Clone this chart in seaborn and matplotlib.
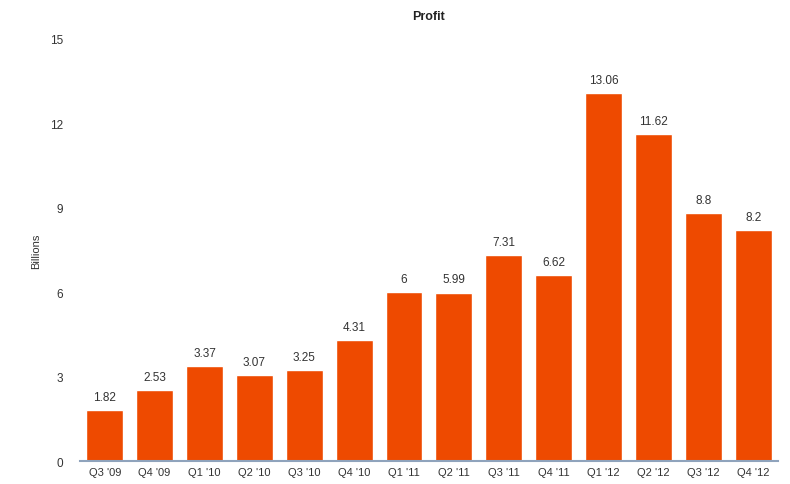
import matplotlib
matplotlib.use("Agg")
import matplotlib.pyplot as plt
import seaborn as sns

quarters = ["Q3 '09", "Q4 '09", "Q1 '10", "Q2 '10", "Q3 '10", "Q4 '10", "Q1 '11",
            "Q2 '11", "Q3 '11", "Q4 '11", "Q1 '12", "Q2 '12", "Q3 '12", "Q4 '12"]
profit = [1.82, 2.53, 3.37, 3.07, 3.25, 4.31, 6, 5.99, 7.31, 6.62, 13.06, 11.62, 8.8, 8.2]
labels = ["1.82", "2.53", "3.37", "3.07", "3.25", "4.31", "6", "5.99", "7.31", "6.62",
          "13.06", "11.62", "8.8", "8.2"]
yticks = [0, 3, 6, 9, 12, 15]

sns.set_style("white")
plt.rcParams['font.family'] = ['Liberation Sans', 'DejaVu Sans']

fig = plt.figure(figsize=(7.9, 4.85), dpi=100)
ax = fig.add_axes([0.101, 0.047, 0.884, 0.871])

sns.barplot(x=quarters, y=profit, color="#EE4A00", saturation=1, width=0.74, ax=ax)

for i, (v, t) in enumerate(zip(profit, labels)):
    ax.text(i, v + 0.25, t, ha="center", va="bottom", fontsize=8.5, color="#333333")

ax.set_ylim(0, 15)
ax.set_xlim(-0.5, 13.5)
ax.set_yticks(yticks)
ax.set_yticklabels([str(t) for t in yticks], fontsize=8.5, color="#333333")
ax.tick_params(axis="x", labelsize=8, colors="#333333", length=0, pad=4)
ax.tick_params(axis="y", length=0, pad=12)
ax.set_ylabel("Billions", fontsize=8, color="#333333", labelpad=6)
ax.set_title("Profit", fontsize=9, fontweight="bold", color="#222222", pad=14)

for s in ["left", "right", "top"]:
    ax.spines[s].set_visible(False)
ax.spines["bottom"].set_color("#8FA3BC")
ax.spines["bottom"].set_linewidth(1.5)

fig.savefig("out.png", dpi=100)
